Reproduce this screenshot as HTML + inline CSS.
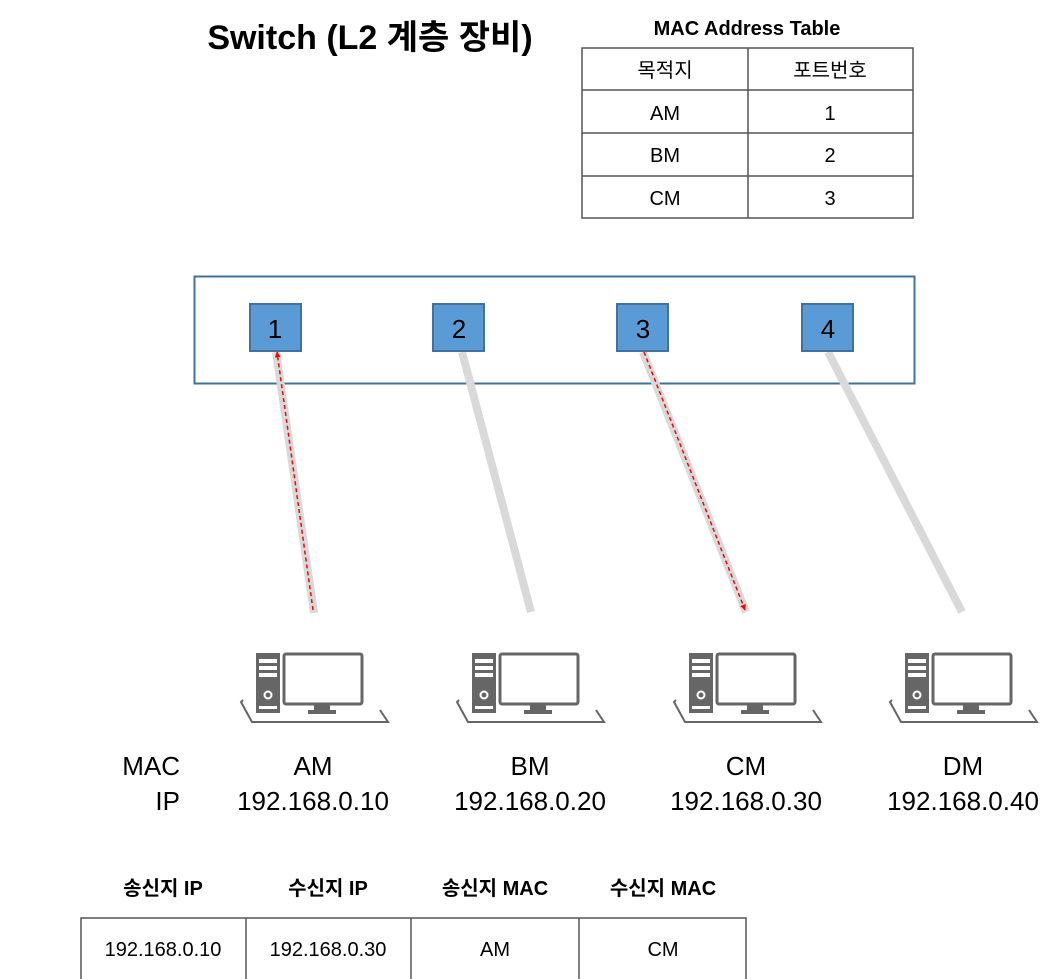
<!DOCTYPE html>
<html><head><meta charset="utf-8"><style>
html,body{margin:0;padding:0;background:#fff;}
svg{display:block;}
text{font-family:"Liberation Sans","Noto Sans CJK KR",sans-serif;}
</style></head><body>
<svg width="1062" height="979" viewBox="0 0 1062 979" xmlns="http://www.w3.org/2000/svg">
<defs>
<marker id="ar" viewBox="0 0 10 10" refX="9" refY="5" markerWidth="4" markerHeight="4" orient="auto-start-reverse" markerUnits="strokeWidth">
<path d="M0,0 L10,5 L0,10 z" fill="#ff0000"/></marker>
<g id="pc">
<rect x="0" y="0" width="24" height="60" fill="#666"/>
<rect x="3" y="6" width="18" height="4" fill="#fff"/>
<rect x="3" y="13" width="18" height="4" fill="#fff"/>
<rect x="3" y="20" width="18" height="4" fill="#fff"/>
<circle cx="12" cy="42" r="3.5" fill="none" stroke="#fff" stroke-width="2"/>
<rect x="3" y="53" width="18" height="3" fill="#fff"/>
<rect x="28" y="1" width="78" height="50" rx="2" fill="none" stroke="#666" stroke-width="3"/>
<path d="M58,51 h16 v6 h6 v4 h-28 v-4 h6z" fill="#666"/>
<path d="M-13,47 L-15,49 L-4,69 L132,69 L124,57" fill="none" stroke="#666" stroke-width="2"/>
</g>
</defs>

<text x="370" y="49" font-size="34" font-weight="bold" text-anchor="middle">Switch (L2 계층 장비)</text>

<text x="747" y="35" font-size="20" font-weight="bold" text-anchor="middle">MAC Address Table</text>
<g stroke="#555" stroke-width="1.5" fill="none">
<rect x="582" y="48" width="331" height="170"/>
<line x1="748" y1="48" x2="748" y2="218"/>
<line x1="582" y1="90" x2="913" y2="90"/>
<line x1="582" y1="133" x2="913" y2="133"/>
<line x1="582" y1="176" x2="913" y2="176"/>
</g>
<g font-size="20" text-anchor="middle">
<text x="665" y="77">목적지</text><text x="830" y="77">포트번호</text>
<text x="665" y="120">AM</text><text x="830" y="120">1</text>
<text x="665" y="162">BM</text><text x="830" y="162">2</text>
<text x="665" y="205">CM</text><text x="830" y="205">3</text>
</g>

<rect x="194.5" y="276.5" width="720" height="107" fill="#fff" stroke="#41719c" stroke-width="2"/>

<g stroke="#d9d9d9" stroke-width="8">
<line x1="276" y1="352" x2="314" y2="613"/>
<line x1="462" y1="352" x2="531" y2="612"/>
<line x1="643" y1="352" x2="746" y2="612"/>
<line x1="828" y1="352" x2="962" y2="612"/>
</g>
<g stroke="#ff0000" stroke-width="1.5" stroke-dasharray="4,3" fill="none">
<line x1="313" y1="610" x2="277" y2="352" marker-end="url(#ar)"/>
<line x1="644" y1="352" x2="745" y2="610" marker-end="url(#ar)"/>
</g>

<g fill="#5b9bd5" stroke="#41719c" stroke-width="2">
<rect x="250" y="304" width="51" height="47"/>
<rect x="433" y="304" width="51" height="47"/>
<rect x="617" y="304" width="51" height="47"/>
<rect x="802" y="304" width="51" height="47"/>
</g>
<g font-size="26" text-anchor="middle">
<text x="275" y="338">1</text><text x="459" y="338">2</text><text x="643" y="338">3</text><text x="828" y="338">4</text>
</g>

<use href="#pc" x="256" y="653"/>
<use href="#pc" x="472" y="653"/>
<use href="#pc" x="689" y="653"/>
<use href="#pc" x="905" y="653"/>

<g font-size="26" text-anchor="middle">
<text x="180" y="775" text-anchor="end">MAC</text>
<text x="180" y="810" text-anchor="end">IP</text>
<text x="313" y="775">AM</text><text x="313" y="810">192.168.0.10</text>
<text x="530" y="775">BM</text><text x="530" y="810">192.168.0.20</text>
<text x="746" y="775">CM</text><text x="746" y="810">192.168.0.30</text>
<text x="963" y="775">DM</text><text x="963" y="810">192.168.0.40</text>
</g>

<g font-size="20" font-weight="bold" text-anchor="middle">
<text x="163" y="895">송신지 IP</text>
<text x="328" y="895">수신지 IP</text>
<text x="495" y="895">송신지 MAC</text>
<text x="663" y="895">수신지 MAC</text>
</g>
<g stroke="#555" stroke-width="1.5" fill="none">
<rect x="81" y="918" width="665" height="70"/>
<line x1="246" y1="918" x2="246" y2="979"/>
<line x1="411" y1="918" x2="411" y2="979"/>
<line x1="579" y1="918" x2="579" y2="979"/>
</g>
<g font-size="20" text-anchor="middle">
<text x="163" y="956">192.168.0.10</text>
<text x="328" y="956">192.168.0.30</text>
<text x="495" y="956">AM</text>
<text x="663" y="956">CM</text>
</g>
</svg>
</body></html>
